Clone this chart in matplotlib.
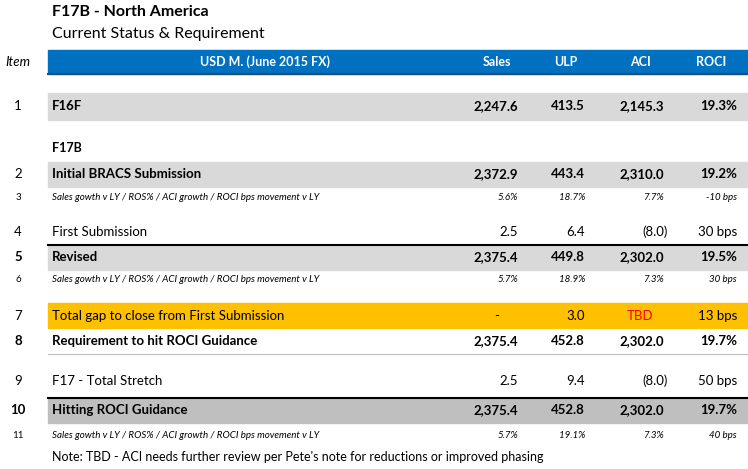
import matplotlib.pyplot as plt
from matplotlib.patches import Rectangle

plt.rcParams['font.family'] = ['Lato', 'DejaVu Sans']

W, H = 748, 469
items = ['1', '2', '3', '4', '5', '6', '7', '8', '9', '10', '11']
labels = ['F16F', 'Initial BRACS Submission',
          'Sales gowth v LY / ROS% / ACI growth / ROCI bps movement v LY',
          'First Submission', 'Revised',
          'Sales gowth v LY / ROS% / ACI growth / ROCI bps movement v LY',
          'Total gap to close from First Submission', 'Requirement to hit ROCI Guidance',
          'F17 - Total Stretch', 'Hitting ROCI Guidance',
          'Sales gowth v LY / ROS% / ACI growth / ROCI bps movement v LY']
sales = ['2,247.6', '2,372.9', '5.6%', '2.5', '2,375.4', '5.7%', '-', '2,375.4', '2.5', '2,375.4', '5.7%']
ulp = ['413.5', '443.4', '18.7%', '6.4', '449.8', '18.9%', '3.0', '452.8', '9.4', '452.8', '19.1%']
aci = ['2,145.3', '2,310.0', '7.7%', '(8.0)', '2,302.0', '7.3%', 'TBD', '2,302.0', '(8.0)', '2,302.0', '7.3%']
roci = ['19.3%', '19.2%', '-10 bps', '30 bps', '19.5%', '30 bps', '13 bps', '19.7%', '50 bps', '19.7%', '40 bps']
headers = ['USD M. (June 2015 FX)', 'Sales', 'ULP', 'ACI', 'ROCI']

row_y = [106, 174, 198, 232, 257, 280, 316, 341, 381, 410, 435]
style = ['bold', 'bold', 'small', 'normal', 'bold', 'small', 'normal', 'bold', 'normal', 'bold', 'small']
bands = {0: ('#D9D9D9', 93, 120), 1: ('#D9D9D9', 162, 187), 4: ('#D9D9D9', 245, 270),
         6: ('#FFC000', 303, 328), 9: ('#BFBFBF', 398, 423)}

fig = plt.figure(figsize=(W / 100, H / 100), dpi=100)
ax = fig.add_axes([0, 0, 1, 1])
ax.set_xlim(0, W)
ax.set_ylim(H, 0)
ax.axis('off')

ax.text(52, 12, 'F17B - North America', fontsize=11.5, weight='bold', va='center')
ax.text(52, 34, 'Current Status & Requirement', fontsize=11.5, va='center')
ax.text(5, 62, 'Item', fontsize=9.5, style='italic', va='center')

ax.add_patch(Rectangle((48, 50), W - 48, 24, color='#0070C0'))
ax.plot([48, W], [74, 74], color='#1F4E79', lw=1.5)
hx = [265, 497, 566, 640, 711]
for x, t in zip(hx, headers):
    ax.text(x, 62, t, color='white', weight='bold', fontsize=9, ha='center', va='center')

for i, (c, y0, y1) in bands.items():
    ax.add_patch(Rectangle((48, y0), W - 48, y1 - y0, color=c))
ax.plot([48, W], [245, 245], color='black', lw=1.5)
ax.plot([48, W], [398, 398], color='black', lw=1.5)
ax.plot([48, W], [354, 354], color='#BFBFBF', lw=0.8)

ax.text(52, 148, 'F17B', weight='bold', fontsize=9, va='center')

rx = [518, 585, 664, 737]
for i, y in enumerate(row_y):
    s = style[i]
    fs = 7 if s == 'small' else 9.5
    kw = dict(fontsize=fs, va='center')
    if s == 'small':
        kw['style'] = 'italic'
    if s == 'bold':
        kw['weight'] = 'bold'
    ax.text(18, y, items[i], ha='center', fontsize=7 if s == 'small' else 9.5,
            weight='bold' if items[i] in ('5', '8', '10') else 'normal', va='center')
    ax.text(52, y, labels[i], ha='left', **kw)
    for x, v in zip(rx, [sales[i], ulp[i], aci[i], roci[i]]):
        color = '#FF0000' if v == 'TBD' else 'black'
        if v == '-':
            ax.text(497, y, v, ha='center', color=color, **kw)
        elif v.startswith('('):
            ax.text(x + 4, y, v, ha='right', color=color, **kw)
        elif v == 'TBD':
            ax.text(640, y, v, ha='center', color=color, **kw)
        else:
            ax.text(x, y, v, ha='right', color=color, **kw)

ax.text(52, 457, "Note: TBD - ACI needs further review per Pete's note for reductions or improved phasing",
        fontsize=9, va='center')

fig.savefig('out.png', dpi=100)
